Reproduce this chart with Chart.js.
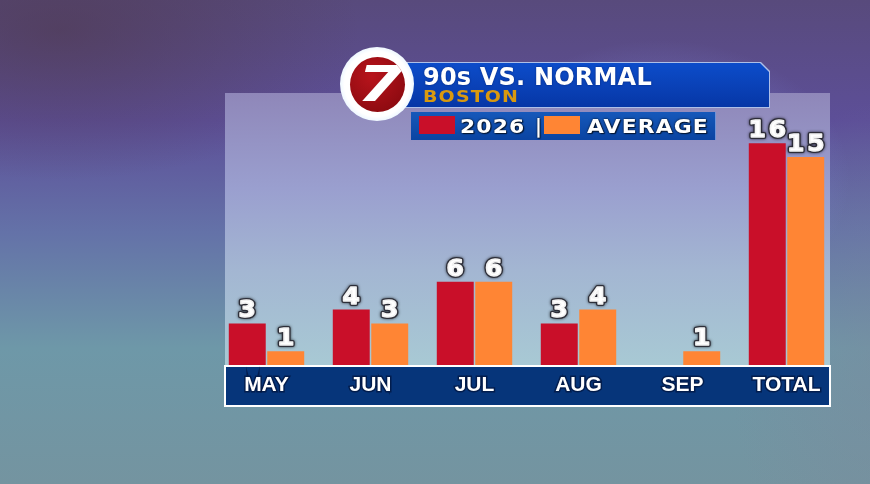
<!DOCTYPE html>
<html>
<head>
<meta charset="utf-8">
<script src="https://cdn.jsdelivr.net/npm/chart.js@4.4.1/dist/chart.umd.min.js"></script>
<style>
html,body{margin:0;padding:0;}
body{width:870px;height:484px;overflow:hidden;position:relative;
 background:
  radial-gradient(ellipse 190px 140px at 660px 180px, rgba(140,160,245,0.55), rgba(140,160,245,0) 100%),
  radial-gradient(ellipse 300px 150px at 60px 30px, rgba(78,56,76,0.6), rgba(78,56,76,0) 100%),
  radial-gradient(ellipse 160px 260px at 890px 360px, rgba(125,135,155,0.45), rgba(125,135,155,0) 100%),
  linear-gradient(to bottom, #584a7c 0%, #5d4f98 25%, #6472a8 48%, #6e98a8 72%, #7494a0 100%);
 font-family:"DejaVu Sans",sans-serif;}
#panel{position:absolute;left:225px;top:93px;width:605px;height:272px;
 background:linear-gradient(to bottom,#8f87b9 0%,#9a9fcf 35%,#a3b6d2 65%,#a8c9d4 100%);}
#band{position:absolute;left:224px;top:365px;width:607px;height:41.5px;box-sizing:border-box;
 border:2.5px solid #ffffff;background:#06357a;}
#chart{position:absolute;left:0;top:0;z-index:2;}
#tbOuter{position:absolute;left:398px;top:62px;width:372px;height:46px;z-index:3;background:#aebfe8;
 clip-path:polygon(0 0,363px 0,372px 9px,372px 100%,0 100%);}
#tbInner{position:absolute;left:0;top:1px;width:371px;height:44px;
 background:linear-gradient(to bottom,#0c4cca 0%,#0a42b8 50%,#0636a6 100%);
 clip-path:polygon(0 0,362px 0,371px 9px,371px 100%,0 100%);}
.t{position:absolute;white-space:nowrap;font-weight:bold;z-index:4;transform-origin:0 0;}
#title{left:423px;top:65px;font-size:24px;line-height:24px;color:#fff;letter-spacing:0.2px;
 text-shadow:0 0 2px rgba(0,0,40,0.5);}
#city{left:423px;top:88.7px;font-size:16.5px;line-height:16.5px;color:#d9990f;letter-spacing:1px;transform:scaleX(1.15);}
#legend{position:absolute;left:411px;top:111.5px;width:305px;height:28.5px;z-index:3;
 background:linear-gradient(to bottom,#1658ba,#0a44a2);box-shadow:inset -1px 0 0 #6f93d8;}
.sw{position:absolute;top:115.5px;width:36px;height:18.5px;z-index:4;}
.lt{font-size:19px;line-height:19px;top:116.8px;color:#fff;letter-spacing:1px;transform:scaleX(1.15);
 text-shadow:0 0 2px #000,1px 1px 1px rgba(0,0,0,0.6);}
#logo{position:absolute;left:340px;top:47px;width:74px;height:74px;border-radius:50%;z-index:5;
 background:radial-gradient(circle,#ffffff 62%,#dcefff 80%,#c4e0f5 100%);}
#logoIn{position:absolute;left:9.5px;top:9.5px;width:55px;height:55px;border-radius:50%;overflow:hidden;
 background:radial-gradient(circle at 40% 35%,#b8141c,#8c0a10 80%);}
#seven{position:absolute;left:7px;top:-3px;font-size:50px;line-height:60px;font-weight:bold;font-style:italic;
 color:#fff;transform:scaleX(1.35);transform-origin:0 0;}
</style>
</head>
<body>
<div id="panel"></div>
<div id="band"></div>
<canvas id="chart" width="870" height="484"></canvas>
<div id="tbOuter"><div id="tbInner"></div></div>
<div id="title" class="t">90s VS. NORMAL</div>
<div id="city" class="t">BOSTON</div>
<div id="legend"></div>
<div id="sw1" class="sw" style="left:419px;"></div>
<div id="lt1" class="t lt" style="left:460px;"></div>
<div class="t lt" style="left:535px;letter-spacing:0;transform:none;">|</div>
<div id="sw2" class="sw" style="left:544px;"></div>
<div id="lt2" class="t lt" style="left:587px;"></div>
<div id="logo"><div id="logoIn"><span id="seven">7</span></div></div>
<script>
// ---- data ----
const categories = ['MAY', 'JUN', 'JUL', 'AUG', 'SEP', 'TOTAL'];
const days2026 = [3, 4, 6, 3, 0, 16];
const daysAverage = [1, 3, 6, 4, 1, 15];
const seriesNames = ['2026', 'AVERAGE'];

// ---- styles ----
const seriesColors = ['#c90f29', '#ff8534'];

document.getElementById('sw1').style.background = seriesColors[0];
document.getElementById('sw2').style.background = seriesColors[1];
document.getElementById('lt1').textContent = seriesNames[0];
document.getElementById('lt2').textContent = seriesNames[1];

const valueLabels = {
  id: 'valueLabels',
  afterDatasetsDraw(chart) {
    const ctx = chart.ctx;
    chart.data.datasets.forEach((ds, di) => {
      const meta = chart.getDatasetMeta(di);
      meta.data.forEach((el, i) => {
        const v = ds.data[i];
        if (!v) return;
        const text = String(v);
        ctx.save();
        ctx.font = '900 23px "DejaVu Sans", "Liberation Sans", sans-serif';
        const sx = 1.08, gap = 3;
        const widths = [...text].map(c => ctx.measureText(c).width * sx);
        const total = widths.reduce((a, b) => a + b, 0) + gap * (text.length - 1);
        let x = el.x - total / 2;
        const y = el.y - 6;
        [...text].forEach((c, k) => {
          ctx.save();
          ctx.translate(x, y);
          ctx.scale(sx, 1);
          ctx.textAlign = 'left';
          ctx.textBaseline = 'alphabetic';
          ctx.lineJoin = 'round';
          ctx.shadowColor = 'rgba(0,0,0,0.8)';
          ctx.shadowBlur = 3;
          ctx.lineWidth = 4;
          ctx.strokeStyle = 'rgba(40,40,50,0.9)';
          ctx.strokeText(c, 0, 0);
          ctx.shadowBlur = 0;
          ctx.fillStyle = '#ffffff';
          ctx.strokeStyle = '#f2f2f2';
          ctx.lineWidth = 1.5;
          ctx.fillText(c, 0, 0);
          ctx.strokeText(c, 0, 0);
          ctx.restore();
          x += widths[k] + gap;
        });
        ctx.restore();
      });
    });
  }
};

new Chart(document.getElementById('chart'), {
  type: 'bar',
  data: {
    labels: categories,
    datasets: [
      { label: seriesNames[0], data: days2026, backgroundColor: seriesColors[0] },
      { label: seriesNames[1], data: daysAverage, backgroundColor: seriesColors[1] }
    ]
  },
  options: {
    responsive: false,
    animation: false,
    devicePixelRatio: 1,
    layout: { padding: { left: 214.5, right: 31.5, top: 87.8, bottom: 78 } },
    datasets: { bar: { categoryPercentage: 0.74, barPercentage: 0.96, borderWidth: 0 } },
    scales: {
      x: {
        display: true,
        grid: { display: false, drawTicks: false },
        border: { display: false },
        afterFit(scale) { scale.height = 41; },
        ticks: {
          color: '#ffffff',
          padding: 8,
          font: { family: '"Liberation Sans", Arial, sans-serif', size: 21, weight: 'bold' },
          textStrokeColor: 'rgba(0,10,40,0.55)',
          textStrokeWidth: 3,
          maxRotation: 0,
          autoSkip: false
        }
      },
      y: { display: false, min: 0, max: 20 }
    },
    plugins: { legend: { display: false }, tooltip: { enabled: false } }
  },
  plugins: [valueLabels]
});
</script>
</body>
</html>
